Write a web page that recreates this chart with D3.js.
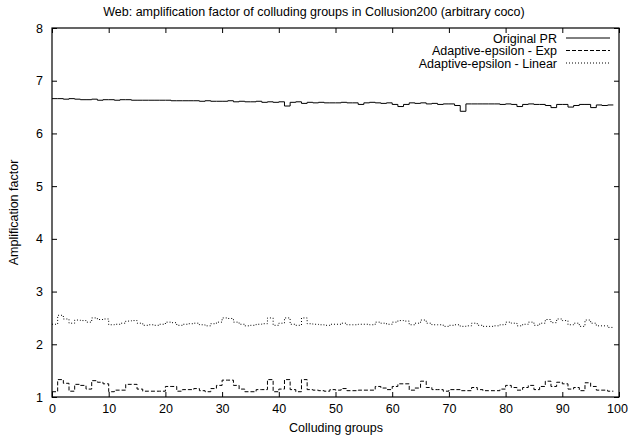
<!DOCTYPE html>
<html>
<head>
<meta charset="utf-8">
<script src="https://cdn.jsdelivr.net/npm/d3@7"></script>
<style>
  html, body { margin: 0; padding: 0; background: #fff; }
  svg { display: block; }
  text { font-family: "Liberation Sans", Arial, Helvetica, sans-serif; fill: #000; }
</style>
</head>
<body>
<svg id="chart" width="628" height="441"></svg>
<script>
// Colluding group index 0..99
const groups = d3.range(0, 100);

const originalPR = [
  6.66, 6.66, 6.65, 6.66, 6.65, 6.64, 6.64, 6.65, 6.63, 6.64,
  6.64, 6.63, 6.64, 6.64, 6.63, 6.63, 6.63, 6.63, 6.63, 6.63,
  6.63, 6.62, 6.62, 6.62, 6.62, 6.62, 6.61, 6.62, 6.61, 6.61,
  6.61, 6.62, 6.60, 6.61, 6.60, 6.60, 6.61, 6.59, 6.60, 6.59,
  6.60, 6.52, 6.59, 6.60, 6.57, 6.59, 6.58, 6.59, 6.58, 6.58,
  6.58, 6.59, 6.58, 6.58, 6.55, 6.58, 6.59, 6.58, 6.57, 6.58,
  6.55, 6.51, 6.55, 6.58, 6.57, 6.58, 6.56, 6.57, 6.55, 6.56,
  6.56, 6.53, 6.42, 6.56, 6.56, 6.56, 6.56, 6.56, 6.56, 6.55,
  6.56, 6.55, 6.51, 6.55, 6.56, 6.55, 6.55, 6.53, 6.49, 6.55,
  6.55, 6.50, 6.53, 6.55, 6.55, 6.49, 6.54, 6.53, 6.54, 6.54
];

const adaptiveExp = [
  1.10, 1.33, 1.26, 1.11, 1.24, 1.22, 1.15, 1.31, 1.28, 1.25,
  1.10, 1.13, 1.13, 1.24, 1.24, 1.15, 1.11, 1.11, 1.11, 1.11,
  1.20, 1.20, 1.11, 1.14, 1.14, 1.16, 1.12, 1.10, 1.16, 1.22,
  1.32, 1.32, 1.22, 1.15, 1.10, 1.10, 1.14, 1.14, 1.33, 1.10,
  1.15, 1.33, 1.14, 1.10, 1.33, 1.14, 1.13, 1.12, 1.11, 1.14,
  1.13, 1.16, 1.12, 1.12, 1.13, 1.13, 1.13, 1.20, 1.17, 1.14,
  1.20, 1.25, 1.25, 1.13, 1.17, 1.30, 1.18, 1.14, 1.14, 1.11,
  1.14, 1.14, 1.12, 1.12, 1.18, 1.14, 1.12, 1.12, 1.12, 1.15,
  1.22, 1.18, 1.13, 1.18, 1.22, 1.14, 1.20, 1.30, 1.20, 1.28,
  1.25, 1.15, 1.18, 1.12, 1.27, 1.20, 1.13, 1.13, 1.11, 1.11
];

const adaptiveLinear = [
  2.38, 2.55, 2.48, 2.40, 2.46, 2.45, 2.42, 2.50, 2.47, 2.48,
  2.37, 2.38, 2.40, 2.44, 2.45, 2.40, 2.36, 2.37, 2.36, 2.38,
  2.42, 2.41, 2.36, 2.38, 2.39, 2.40, 2.37, 2.35, 2.39, 2.42,
  2.50, 2.49, 2.42, 2.38, 2.35, 2.36, 2.38, 2.39, 2.50, 2.36,
  2.40, 2.50, 2.38, 2.36, 2.50, 2.39, 2.38, 2.37, 2.36, 2.38,
  2.38, 2.40, 2.37, 2.37, 2.38, 2.38, 2.37, 2.42, 2.40, 2.38,
  2.42, 2.45, 2.44, 2.37, 2.40, 2.46, 2.40, 2.37, 2.37, 2.34,
  2.36, 2.37, 2.34, 2.35, 2.40, 2.36, 2.34, 2.34, 2.35, 2.37,
  2.42, 2.40, 2.35, 2.38, 2.42, 2.36, 2.40, 2.47, 2.41, 2.48,
  2.45, 2.37, 2.40, 2.34, 2.46, 2.40, 2.35, 2.35, 2.32, 2.31
];

const xTicks = [0, 10, 20, 30, 40, 50, 60, 70, 80, 90, 100];
const yTicks = [1, 2, 3, 4, 5, 6, 7, 8];

const seriesNames = ["Original PR", "Adaptive-epsilon - Exp", "Adaptive-epsilon - Linear"];
const seriesValues = [originalPR, adaptiveExp, adaptiveLinear];
const seriesDash = [null, "4,2", "1,2"];

const titleText = "Web: amplification factor of colluding groups in Collusion200 (arbitrary coco)";
const xLabel = "Colluding groups";
const yLabel = "Amplification factor";

// Layout
const plot = { left: 52, right: 619, top: 28, bottom: 397 };
const tickLen = 5;
const fontSize = "12.5px";

const svg = d3.select("#chart");
const x = d3.scaleLinear().domain([0, 100]).range([plot.left, plot.right]);
const y = d3.scaleLinear().domain([1, 8]).range([plot.bottom, plot.top]);

// Axes with inward ticks on all four sides
const axisFont = g => g.selectAll("text").style("font-size", fontSize).style("font-family", "'Liberation Sans', Arial, sans-serif");

svg.append("g")
  .attr("transform", `translate(0,${plot.bottom})`)
  .call(d3.axisBottom(x).tickValues(xTicks).tickFormat(d3.format("d")).tickSize(-tickLen).tickPadding(7))
  .call(g => g.select(".domain").remove())
  .call(axisFont)
  // keep the last label inside the canvas edge
  .call(g => g.selectAll(".tick text").filter(d => d === 100).attr("dx", "-2"));

svg.append("g")
  .attr("transform", `translate(0,${plot.top})`)
  .call(d3.axisTop(x).tickValues(xTicks).tickSize(-tickLen).tickFormat(""))
  .call(g => g.select(".domain").remove());

svg.append("g")
  .attr("transform", `translate(${plot.left},0)`)
  .call(d3.axisLeft(y).tickValues(yTicks).tickFormat(d3.format("d")).tickSize(-tickLen).tickPadding(9))
  .call(g => g.select(".domain").remove())
  .call(axisFont);

svg.append("g")
  .attr("transform", `translate(${plot.right},0)`)
  .call(d3.axisRight(y).tickValues(yTicks).tickSize(-tickLen).tickFormat(""))
  .call(g => g.select(".domain").remove());

svg.selectAll(".tick line").attr("stroke", "#000").attr("stroke-width", 1);

// Frame
svg.append("rect")
  .attr("x", plot.left).attr("y", plot.top)
  .attr("width", plot.right - plot.left).attr("height", plot.bottom - plot.top)
  .attr("fill", "none").attr("stroke", "#000").attr("stroke-width", 1.2);

// Step lines
const line = d3.line()
  .x((d, i) => x(groups[i]))
  .y(d => y(d))
  .curve(d3.curveStepAfter);

seriesValues.forEach((vals, k) => {
  svg.append("path")
    .datum(vals)
    .attr("d", line)
    .attr("fill", "none")
    .attr("stroke", "#000")
    .attr("stroke-width", 1)
    .attr("stroke-dasharray", seriesDash[k]);
});

// Legend
const legend = svg.append("g");
seriesNames.forEach((name, k) => {
  const ly = 38 + k * 12.5;
  legend.append("text")
    .attr("x", 557).attr("y", ly + 4.5)
    .attr("text-anchor", "end")
    .style("font-size", fontSize)
    .text(name);
  legend.append("line")
    .attr("x1", 566).attr("x2", 610)
    .attr("y1", ly).attr("y2", ly)
    .attr("stroke", "#000").attr("stroke-width", 1)
    .attr("stroke-dasharray", seriesDash[k]);
});

// Title and axis labels
svg.append("text")
  .attr("x", 314).attr("y", 16)
  .attr("text-anchor", "middle")
  .style("font-size", fontSize)
  .text(titleText);

svg.append("text")
  .attr("x", 336).attr("y", 432)
  .attr("text-anchor", "middle")
  .style("font-size", fontSize)
  .text(xLabel);

svg.append("text")
  .attr("transform", `translate(18,${(plot.top + plot.bottom) / 2}) rotate(-90)`)
  .attr("text-anchor", "middle")
  .style("font-size", fontSize)
  .text(yLabel);
</script>
</body>
</html>
